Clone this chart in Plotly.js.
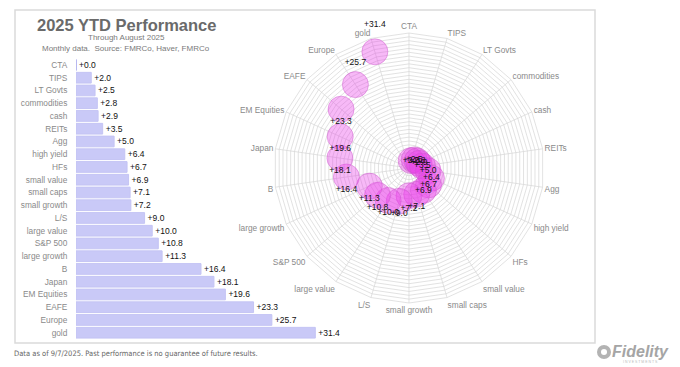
<!DOCTYPE html>
<html>
<head>
<meta charset="utf-8">
<script src="https://cdn.plot.ly/plotly-3.0.1.min.js"></script>
<style>html,body{margin:0;padding:0;background:#fff;}#chart{width:680px;height:367px;}</style>
</head>
<body>
<div id="chart"></div>
<script>
// ---- data ----
const categories = ["CTA","TIPS","LT Govts","commodities","cash","REITs","Agg","high yield","HFs","small value","small caps","small growth","L/S","large value","S&P 500","large growth","B","Japan","EM Equities","EAFE","Europe","gold"];
const ytdReturns = [0.0,2.0,2.5,2.8,2.9,3.5,5.0,6.4,6.7,6.9,7.1,7.2,9.0,10.0,10.8,11.3,16.4,18.1,19.6,23.3,25.7,31.4];
const titleText = "2025 YTD Performance";
const subtitle1 = "Through August 2025";
const subtitle2 = "Monthly data.  Source: FMRCo, Haver, FMRCo";
const footerText = "Data as of 9/7/2025. Past performance is no guarantee of future results.";

// ---- styling helpers (label placement around bubbles) ----
const labelPos = categories.map((c, i) => {
  if (c === "gold" || c === "Europe" || c === "CTA") return "top center";
  if (i <= 9) return "middle center";
  return "bottom center";
});
const labelOffsetSize = categories.map(c => c === "gold" ? 34 : (c === "Europe" ? 26 : 12));

const FONT = "Liberation Sans, Arial, sans-serif";
const fmt = v => "+" + v.toFixed(1);

const barTrace = {
  type: "bar", orientation: "h",
  x: ytdReturns, y: categories,
  xaxis: "x", yaxis: "y",
  marker: {color: "#c9c9f7", line: {color: "#c4c4f4", width: 1}},
  text: ytdReturns.map(fmt),
  textposition: "outside",
  textfont: {family: FONT, size: 8.5, color: "#111"},
  cliponaxis: false,
  hoverinfo: "skip"
};

const bubbleTrace = {
  type: "scatterpolar", mode: "markers",
  r: ytdReturns, theta: categories, subplot: "polar",
  marker: {size: 26, color: "rgba(232,60,232,0.36)", line: {color: "rgba(205,90,205,0.6)", width: 0.8}},
  hoverinfo: "skip"
};

const labelTrace = {
  type: "scatterpolar", mode: "markers+text",
  r: ytdReturns, theta: categories, subplot: "polar",
  marker: {size: labelOffsetSize, color: "rgba(0,0,0,0)", opacity: 0, line: {width: 0, color: "rgba(0,0,0,0)"}},
  text: ytdReturns.map(fmt),
  textposition: labelPos,
  textfont: {family: FONT, size: 8.5, color: "#111"},
  cliponaxis: false,
  hoverinfo: "skip"
};

const layout = {
  width: 680, height: 367,
  margin: {l: 0, r: 0, t: 0, b: 0},
  paper_bgcolor: "#fff", plot_bgcolor: "#fff",
  showlegend: false,
  font: {family: FONT},
  bargap: 0.16,
  xaxis: {domain: [76/680, 327.5/680], range: [0, 33], visible: false, fixedrange: true},
  yaxis: {domain: [27.9/367, 308.4/367], type: "category", categoryarray: categories,
          autorange: "reversed", showgrid: false, zeroline: false, showline: false,
          ticks: "outside", ticklen: 6, tickcolor: "rgba(0,0,0,0)",
          tickfont: {family: FONT, size: 8.3, color: "#8a8a8a"}},
  polar: {
    domain: {x: [274/680, 544/680], y: [64/367, 334/367]},
    gridshape: "linear",
    bgcolor: "#fff",
    radialaxis: {range: [0, 35], dtick: 1, showticklabels: false, ticks: "",
                 showline: false, gridcolor: "#d6d6d6", gridwidth: 0.7},
    angularaxis: {type: "category", categoryarray: categories, direction: "clockwise",
                  rotation: 90, ticks: "", showline: true, linecolor: "#d6d6d6", linewidth: 0.7,
                  gridcolor: "#d6d6d6", gridwidth: 0.7,
                  tickfont: {family: FONT, size: 8.3, color: "#8a8a8a"}}
  },
  shapes: [
    {type: "rect", xref: "paper", yref: "paper", x0: 15/680, x1: 595/680, y0: 24/367, y1: 357/367,
     line: {color: "#dadada", width: 1.5}, fillcolor: "rgba(0,0,0,0)", layer: "below"},
    {type: "line", xref: "paper", yref: "paper", x0: 76.5/680, x1: 76.5/680, y0: (367-70.5)/367, y1: (367-59.5)/367,
     line: {color: "#b8b8f0", width: 1}},
    {type: "circle", xref: "paper", yref: "paper", x0: 597/680, x1: 611/680, y0: (367-359)/367, y1: (367-345)/367,
     line: {color: "#b3b3b3", width: 0}, fillcolor: "#b3b3b3"},
    {type: "circle", xref: "paper", yref: "paper", x0: 601/680, x1: 607/680, y0: (367-355)/367, y1: (367-349)/367,
     line: {width: 0}, fillcolor: "#ffffff"}
  ],
  annotations: [
    {text: "<b>" + titleText + "</b>", xref: "paper", yref: "paper", x: 126/680, y: (367-25.5)/367,
     xanchor: "center", yanchor: "middle", showarrow: false, font: {family: FONT, size: 16.5, color: "#6a6a6a"}},
    {text: subtitle1, xref: "paper", yref: "paper", x: 126/680, y: (367-38)/367,
     xanchor: "center", yanchor: "middle", showarrow: false, font: {family: FONT, size: 8, color: "#7a7a7a"}},
    {text: subtitle2, xref: "paper", yref: "paper", x: 126/680, y: (367-48.5)/367,
     xanchor: "center", yanchor: "middle", showarrow: false, font: {family: FONT, size: 8, color: "#7a7a7a"}},
    {text: footerText, xref: "paper", yref: "paper", x: 12/680, y: (367-353)/367,
     xanchor: "left", yanchor: "middle", showarrow: false,
     font: {family: "Liberation Sans Narrow, Arial Narrow, DejaVu Sans Condensed, sans-serif", size: 7.5, color: "#666"}},
    {text: "<b><i>Fidelity</i></b>", xref: "paper", yref: "paper", x: 640/680, y: (367-351)/367,
     xanchor: "center", yanchor: "middle", showarrow: false, font: {family: FONT, size: 16, color: "#a5a5a5"}},
    {text: "I N V E S T M E N T S", xref: "paper", yref: "paper", x: 640/680, y: (367-362)/367,
     xanchor: "center", yanchor: "middle", showarrow: false, font: {family: FONT, size: 3.5, color: "#bbbbbb"}}
  ]
};

Plotly.newPlot("chart", [barTrace, bubbleTrace, labelTrace], layout, {staticPlot: true, displayModeBar: false});
</script>
</body>
</html>
